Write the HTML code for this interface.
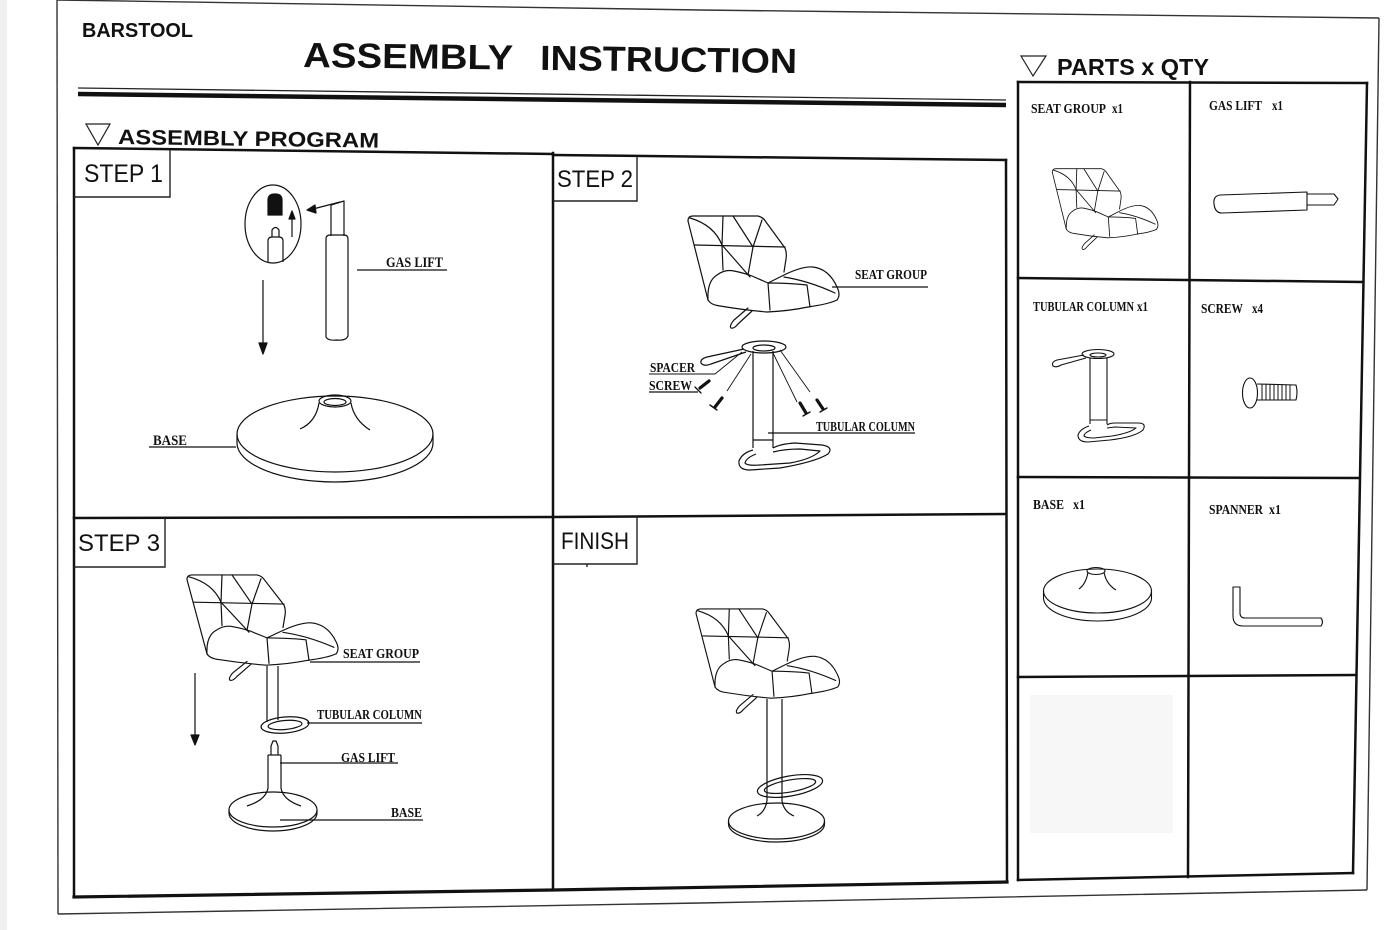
<!DOCTYPE html>
<html>
<head>
<meta charset="utf-8">
<style>
  html,body{margin:0;padding:0;background:#fff;}
  body{width:1400px;height:930px;overflow:hidden;}
  svg{display:block;}
  .sans{font-family:"Liberation Sans",Arial,sans-serif;}
  .serif{font-family:"Liberation Serif","Times New Roman",serif;font-weight:bold;}
</style>
</head>
<body>
<svg width="1400" height="930" viewBox="0 0 1400 930" xmlns="http://www.w3.org/2000/svg">
  <defs>
    <g id="chair" fill="none" stroke="#111" stroke-width="1.2" stroke-linejoin="round" stroke-linecap="round">
      <!-- backrest -->
      <path d="M -1,6 Q -1,1 4,1 L 69,1 Q 74,2 77,7 L 96,33 Q 98,38 97,44 L 95,57"/>
      <path d="M -1,6 L 19,85"/>
      <path d="M 6,30 L 96,32"/>
      <path d="M 1,3 Q 25,10 33,30"/>
      <path d="M 34,1 L 33,30"/>
      <path d="M 44,1 L 64,32"/>
      <path d="M 73,5 L 64,32"/>
      <path d="M 33,30 L 34,55"/>
      <path d="M 33,30 L 61,62"/>
      <path d="M 64,32 L 59,60"/>
      <!-- seat -->
      <path d="M 19,85 Q 18,66 28,60 Q 36,54 45,56 Q 55,58 63,61 L 79,68"/>
      <path d="M 19,85 Q 22,90 31,91 Q 55,95 78,97 Q 100,96 119,92 Q 140,89 148,85"/>
      <path d="M 79,68 L 91,62 Q 112,51 124,52 Q 140,54 148,72 Q 152,80 148,85"/>
      <path d="M 79,68 L 81,95"/>
      <path d="M 79,68 Q 100,68 118,70 L 121,92"/>
      <path d="M 95,62 Q 120,66 146,78"/>
      <!-- lever -->
      <path d="M 59,93 L 45,105 Q 40,111 42,113 Q 45,114 49,109 L 63,96"/>
    </g>
  </defs>

  <rect x="0" y="0" width="1400" height="930" fill="#fff"/>
  <rect x="0" y="0" width="7" height="930" fill="#f0f0f0"/>

  <!-- page border -->
  <g fill="none" stroke="#333" stroke-width="1.4">
    <path d="M57,0 L700,10 L1379,18"/>
    <path d="M57,0 L58,914"/>
    <path d="M1379,18 L1367,890"/>
    <path d="M58,914 L700,903 L1367,890"/>
  </g>

  <!-- header -->
  <text x="82" y="37" class="sans" font-weight="bold" font-size="20" textLength="111" lengthAdjust="spacingAndGlyphs" fill="#111">BARSTOOL</text>
  <g transform="rotate(0.7 303 67)">
    <text x="303" y="67" class="sans" font-weight="bold" font-size="35" textLength="210" lengthAdjust="spacingAndGlyphs" fill="#111">ASSEMBLY</text>
    <text x="540" y="67" class="sans" font-weight="bold" font-size="35" textLength="257" lengthAdjust="spacingAndGlyphs" fill="#111">INSTRUCTION</text>
  </g>
  <path d="M78,88 L1006,100" stroke="#222" stroke-width="1.3" fill="none"/>
  <path d="M78,94 L1006,105" stroke="#111" stroke-width="4.5" fill="none"/>

  <polygon points="86,124 110,124 98,145" fill="none" stroke="#222" stroke-width="1.2"/>
  <text x="118" y="144" class="sans" font-weight="bold" font-size="21" textLength="261" lengthAdjust="spacingAndGlyphs" fill="#111" transform="rotate(0.8 118 144)">ASSEMBLY PROGRAM</text>

  <polygon points="1021,56 1046,56 1033,76" fill="none" stroke="#222" stroke-width="1.2"/>
  <text x="1057" y="75" class="sans" font-weight="bold" font-size="23" textLength="152" lengthAdjust="spacingAndGlyphs" fill="#111">PARTS x QTY</text>

  <!-- steps grid -->
  <g fill="none" stroke="#111" stroke-width="2.5" stroke-linecap="square">
    <path d="M74,148 L553,154"/>
    <path d="M553,155 L1006,160"/>
    <path d="M74,148 L74,897"/>
    <path d="M553,153 L553,890"/>
    <path d="M1006,160 L1007,882"/>
    <path d="M74,518 L553,517 L1006,514"/>
    <path d="M74,897 L553,890 L1007,882" stroke-width="3.2"/>
  </g>
  <!-- step label boxes -->
  <g fill="none" stroke="#222" stroke-width="1.4">
    <path d="M170,150 L170,197 L74,197"/>
    <path d="M637,156 L637,201 L553,201"/>
    <path d="M165,518 L165,567 L74,567"/>
    <path d="M637,516 L637,564 L553,564"/>
    <path d="M587,564 L587,567"/>
  </g>
  <g class="sans" fill="#111" font-size="24">
    <text x="84" y="182" font-size="25" textLength="79" lengthAdjust="spacingAndGlyphs">STEP 1</text>
    <text x="557" y="187" textLength="76" lengthAdjust="spacingAndGlyphs">STEP 2</text>
    <text x="78" y="551" textLength="82" lengthAdjust="spacingAndGlyphs">STEP 3</text>
    <text x="561" y="549" textLength="68" lengthAdjust="spacingAndGlyphs">FINISH</text>
  </g>

  <!-- ============ STEP 1 drawing ============ -->
  <g fill="none" stroke="#111" stroke-width="1.2" stroke-linejoin="round">
    <ellipse cx="273" cy="224" rx="28" ry="39"/>
    <path d="M268,215 L268,200 Q268,194 275,194 Q282,194 282,200 L282,215 Z" fill="#111"/>
    <path d="M268,262 L268,241 Q268,237 272,237 L279,237 Q283,237 283,241 L283,262"/>
    <path d="M272,237 L272,230 Q275.5,225 279,230 L279,237"/>
    <path d="M292,237 L292,218"/>
    <polygon points="289,219 295,219 292,211" fill="#111"/>
    <path d="M340,202 L313,209"/>
    <polygon points="307,210 315,205 316,213" fill="#111"/>
    <!-- gas lift -->
    <path d="M331,236 L331,205 L344,201 L344,236"/>
    <path d="M326,337 L326,239 Q326,235 330,235 L344,235 Q348,235 348,239 L348,336 Q346,341 337,340 Q328,341 326,337 Z"/>
    <path d="M357,270 L447,270"/>
    <!-- down arrow -->
    <path d="M263,280 L263,344"/>
    <polygon points="259,343 267,343 263,354" fill="#111"/>
    <!-- base -->
    <ellipse cx="335" cy="434" rx="98" ry="38"/>
    <path d="M237,434 L237,443 A98,39 0 0 0 433,443 L433,434"/>
    <ellipse cx="335" cy="401" rx="16" ry="6"/>
    <ellipse cx="335" cy="402" rx="11" ry="3.5"/>
    <path d="M319,403 Q316,422 300,429"/>
    <path d="M351,403 Q354,420 370,430"/>
    <path d="M149,447 L236,447"/>
  </g>
  <g class="serif" fill="#111" font-size="14.5">
    <text x="386" y="267" textLength="57" lengthAdjust="spacingAndGlyphs">GAS LIFT</text>
    <text x="153" y="445" textLength="34" lengthAdjust="spacingAndGlyphs">BASE</text>
  </g>

  <!-- ============ STEP 2 drawing ============ -->
  <use href="#chair" transform="translate(689,215)"/>
  <g fill="none" stroke="#111" stroke-width="1.2" stroke-linejoin="round">
    <path d="M832,287 L928,287"/>
    <!-- column top plate -->
    <ellipse cx="764" cy="347" rx="22" ry="6"/>
    <ellipse cx="764" cy="348" rx="11" ry="3"/>
    <path d="M753,351 L753,448"/>
    <path d="M773,351 L773,448"/>
    <path d="M753,440 L773,440"/>
    <!-- foot plate -->
    <path d="M753,450 Q742,453 739,461 Q738,470 750,470 L780,468 Q815,462 828,454 Q834,447 822,445 L795,443 Q780,444 773,448"/>
    <path d="M756,454 Q746,458 745,463 Q747,466 760,465 L790,463 Q812,459 820,451 L800,449 Q785,449 773,452"/>
    <!-- spacer lever -->
    <path d="M744,349 L707,357 Q700,359 701,363 Q704,367 711,364 L746,352"/>
    <!-- leader lines -->
    <path d="M751,354 L727,391" stroke-width="0.9"/>
    <path d="M742,352 L715,374 L649,374" stroke-width="0.9"/>
    <path d="M773,353 L797,402" stroke-width="0.9"/>
    <path d="M780,350 L810,392" stroke-width="0.9"/>
    <path d="M649,392 L698,392"/>
    <path d="M768,433 L915,433"/>
  </g>
  <!-- screws -->
  <g stroke="#111" fill="none" stroke-linecap="round">
    <path d="M700,388 L709,381" stroke-width="3.2"/>
    <path d="M695,387 L701,393" stroke-width="1.4"/>
    <path d="M715,407 L722,398" stroke-width="3.2"/>
    <path d="M710,405 L717,410" stroke-width="1.4"/>
    <path d="M800,403 L806,413" stroke-width="3.2"/>
    <path d="M803,416 L810,412" stroke-width="1.4"/>
    <path d="M817,400 L823,409" stroke-width="3.2"/>
    <path d="M820,412 L827,408" stroke-width="1.4"/>
  </g>
  <g class="serif" fill="#111" font-size="14">
    <text x="855" y="279" textLength="72" lengthAdjust="spacingAndGlyphs">SEAT GROUP</text>
    <text x="650" y="372" textLength="45" lengthAdjust="spacingAndGlyphs">SPACER</text>
    <text x="649" y="390" textLength="43" lengthAdjust="spacingAndGlyphs">SCREW</text>
    <text x="816" y="431" textLength="99" lengthAdjust="spacingAndGlyphs">TUBULAR COLUMN</text>
  </g>

  <!-- ============ STEP 3 drawing ============ -->
  <use href="#chair" transform="translate(188,574) scale(1,0.94)"/>
  <g fill="none" stroke="#111" stroke-width="1.2" stroke-linejoin="round">
    <path d="M267,666 L267,722"/>
    <path d="M278,666 L278,720"/>
    <ellipse cx="285" cy="725" rx="24" ry="8" transform="rotate(-5 285 725)"/>
    <ellipse cx="285" cy="725" rx="17" ry="4.5" transform="rotate(-5 285 725)"/>
    <!-- gas lift + base -->
    <path d="M271,755 L271,746 L273,741 L276,741 L278,746 L278,755"/>
    <path d="M268,755 L281,755"/>
    <path d="M268,755 L268,788 Q266,800 247,806"/>
    <path d="M281,755 L281,788 Q283,800 301,806"/>
    <path d="M229,810 A44,18 0 0 1 317,810"/>
    <path d="M229,810 L229,813 A44,18 0 0 0 317,813 L317,810"/>
    <path d="M229,810 A44,17 0 0 0 317,810"/>
    <!-- down arrow -->
    <path d="M195,673 L195,736"/>
    <polygon points="191,735 199,735 195,745" fill="#111"/>
    <!-- leaders -->
    <path d="M310,662 L420,662"/>
    <path d="M307,723 L422,723"/>
    <path d="M280,763 L398,763"/>
    <path d="M280,820 L423,820"/>
  </g>
  <g class="serif" fill="#111" font-size="14">
    <text x="343" y="658" textLength="76" lengthAdjust="spacingAndGlyphs">SEAT GROUP</text>
    <text x="317" y="719" textLength="105" lengthAdjust="spacingAndGlyphs">TUBULAR COLUMN</text>
    <text x="341" y="762" textLength="54" lengthAdjust="spacingAndGlyphs">GAS LIFT</text>
    <text x="391" y="817" textLength="31" lengthAdjust="spacingAndGlyphs">BASE</text>
  </g>

  <!-- ============ FINISH drawing ============ -->
  <use href="#chair" transform="translate(697,608) scale(0.95,0.93)"/>
  <g fill="none" stroke="#111" stroke-width="1.2" stroke-linejoin="round">
    <path d="M767,699 L767,801"/>
    <path d="M782,699 L782,801"/>
    <ellipse cx="790" cy="786" rx="33" ry="10" transform="rotate(-10 790 786)"/>
    <ellipse cx="790" cy="786" rx="26" ry="6" transform="rotate(-10 790 786)"/>
    <path d="M767,801 Q765,812 757,816"/>
    <path d="M782,801 Q784,812 794,816"/>
    <ellipse cx="776.5" cy="821" rx="48" ry="18"/>
    <path d="M728.5,821 L728.5,824 A48,18 0 0 0 824.5,824 L824.5,821"/>
  </g>

  <!-- ============ PARTS TABLE ============ -->
  <rect x="1030" y="695" width="143" height="138" fill="#f7f7f7"/>
  <g fill="none" stroke="#111" stroke-width="2.5" stroke-linecap="square">
    <path d="M1018,82 L1367,83"/>
    <path d="M1018,82 L1018,880"/>
    <path d="M1367,83 L1353,873"/>
    <path d="M1190,82 L1188,877"/>
    <path d="M1018,278 L1362,282"/>
    <path d="M1018,477 L1358,478"/>
    <path d="M1018,677 L1355,675"/>
    <path d="M1018,880 L1353,873"/>
  </g>
  <g class="serif" fill="#111" font-size="14">
    <text x="1031" y="113" textLength="75" lengthAdjust="spacingAndGlyphs">SEAT GROUP</text>
    <text x="1112" y="113" textLength="11" lengthAdjust="spacingAndGlyphs">x1</text>
    <text x="1209" y="110" textLength="53" lengthAdjust="spacingAndGlyphs">GAS LIFT</text>
    <text x="1272" y="110" textLength="11" lengthAdjust="spacingAndGlyphs">x1</text>
    <text x="1033" y="311" textLength="101" lengthAdjust="spacingAndGlyphs">TUBULAR COLUMN</text>
    <text x="1137" y="311" textLength="11" lengthAdjust="spacingAndGlyphs">x1</text>
    <text x="1201" y="313" textLength="42" lengthAdjust="spacingAndGlyphs">SCREW</text>
    <text x="1252" y="313" textLength="11" lengthAdjust="spacingAndGlyphs">x4</text>
    <text x="1033" y="509" textLength="31" lengthAdjust="spacingAndGlyphs">BASE</text>
    <text x="1073" y="509" textLength="12" lengthAdjust="spacingAndGlyphs">x1</text>
    <text x="1209" y="514" textLength="54" lengthAdjust="spacingAndGlyphs">SPANNER</text>
    <text x="1269" y="514" textLength="12" lengthAdjust="spacingAndGlyphs">x1</text>
  </g>

  <!-- seat group icon -->
  <use href="#chair" transform="translate(1053,168) scale(0.7,0.72)"/>

  <g fill="none" stroke="#111" stroke-width="1.1" stroke-linejoin="round">
    <!-- gas lift icon -->
    <path d="M1307,192 L1220,195 Q1213,196 1214,204 Q1215,213 1222,213 L1307,210 Z"/>
    <path d="M1307,194 L1334,194 L1338,199 L1334,205 L1307,205"/>
    <!-- tubular column icon -->
    <ellipse cx="1098" cy="354" rx="16" ry="4.5"/>
    <ellipse cx="1098" cy="355" rx="8" ry="2"/>
    <path d="M1090,358 L1090,424"/>
    <path d="M1107,358 L1107,424"/>
    <path d="M1090,420 L1107,420"/>
    <path d="M1089,426 Q1080,429 1078,435 Q1078,442 1088,442 L1110,440 Q1135,437 1143,430 Q1147,423 1138,423 L1115,423 Q1110,423 1107,425"/>
    <path d="M1091,430 Q1084,433 1084,436 Q1086,438 1094,438 L1112,436 Q1130,433 1136,428 L1115,427 L1107,428"/>
    <path d="M1084,355 L1057,360 Q1051,362 1053,366 Q1056,368 1061,365 L1086,358"/>
    <!-- screw icon -->
    <path d="M1257,384 L1296,385 Q1298,392 1296,400 L1257,400"/>
    <ellipse cx="1250" cy="393" rx="7.5" ry="15"/>
    <path d="M1262,384 L1262,400 M1266,384 L1266,400 M1270,384 L1270,400 M1274,384 L1274,400 M1278,385 L1278,400 M1282,385 L1282,400 M1286,385 L1286,400 M1290,385 L1290,400" stroke-width="1"/>
    <!-- base icon -->
    <ellipse cx="1097.5" cy="591" rx="54" ry="22"/>
    <path d="M1043.5,591 L1043.5,598 A54,23 0 0 0 1151.5,598 L1151.5,591"/>
    <ellipse cx="1096" cy="571" rx="9" ry="3.5"/>
    <path d="M1088,572 Q1086,584 1079,589"/>
    <path d="M1104,572 Q1106,584 1116,590"/>
    <!-- spanner icon -->
    <path d="M1233,587 L1233,616 Q1233,626 1243,626 L1321,626 Q1324,622 1321,618 L1245,618 Q1240,618 1240,613 L1240,587 Z"/>
  </g>
</svg>
</body>
</html>
